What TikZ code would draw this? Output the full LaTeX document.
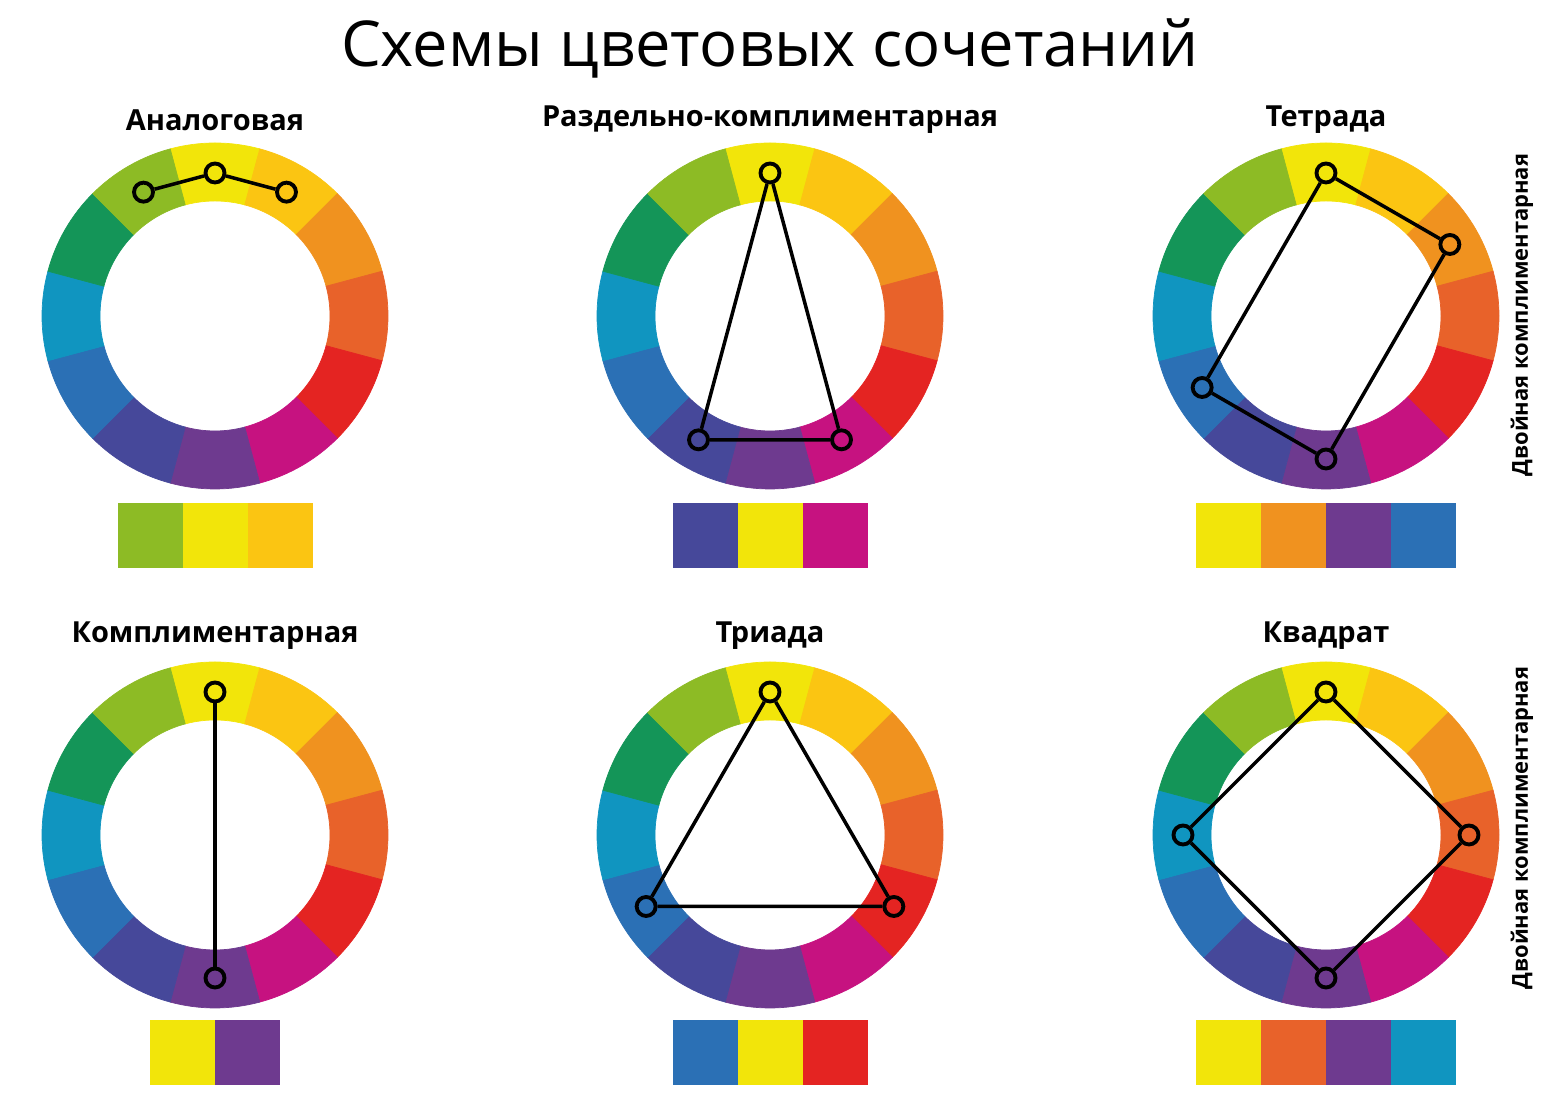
\documentclass[tikz,border=0pt]{standalone}
\usepackage{fontspec}
\setmainfont{Open Sans}
\usetikzlibrary{positioning}
\definecolor{cY}{HTML}{F2E50A}
\definecolor{cYO}{HTML}{FBC512}
\definecolor{cO}{HTML}{F0921F}
\definecolor{cRO}{HTML}{E8622A}
\definecolor{cR}{HTML}{E42422}
\definecolor{cRV}{HTML}{C61280}
\definecolor{cV}{HTML}{6E3A8F}
\definecolor{cBV}{HTML}{46489A}
\definecolor{cB}{HTML}{2B70B5}
\definecolor{cBG}{HTML}{1095C0}
\definecolor{cG}{HTML}{149558}
\definecolor{cYG}{HTML}{8DBB25}
\begin{document}
\begin{tikzpicture}[x=0.02cm,y=0.02cm,
        ringdot/.style={circle,draw,line width=2.2pt,minimum size=0.38cm,inner sep=0pt},
        link/.style={line width=2pt},
        swatch/.style={minimum width=1.3cm,minimum height=1.3cm,inner sep=0pt,outer sep=0pt},
        head/.style={font=\bfseries\fontsize{16.5}{20}\selectfont},
        side/.style={rotate=90,font=\bfseries\fontsize{12.5}{15}\selectfont}]
        \useasboundingbox(0,0)rectangle(1560,1097);
        \node[font=\fontsize{36}{40}\selectfont](title)at(770,1049){Схемы цветовых сочетаний};
        % colour wheels
        \foreach \cx/\cy in {215/781,770/781,1326/781,215/262,770/262,1326/262}
        \foreach \c [count=\i from 0] in {cY,cYO,cO,cRO,cR,cRV,cV,cBV,cB,cBG,cG,cYG}
        \fill[\c,draw=\c,line width=.4pt,shift={(\cx,\cy)}]({75-30*\i}:173)arc[start angle={75-30*\i},end angle={105-30*\i},radius=173]
            --({105-30*\i}:115)arc[start angle={105-30*\i},end angle={75-30*\i},radius=115]--cycle;
        % Аналоговая
        \node[head](h1)at(215,977){Аналоговая};
        \begin{scope}[shift={(215,781)}]
        \node[ringdot](an1)at(120:143){};
        \node[ringdot](an2)at(90:143){};
        \node[ringdot](an3)at(60:143){};
        \draw[link](an1)--(an2)--(an3);
        \end{scope}
        \node[swatch,fill=cYG](s11)at(150.5,561.5){};
        \node[swatch,fill=cY,right=0pt of s11](s12){};
        \node[swatch,fill=cYO,right=0pt of s12](s13){};
        % Раздельно-комплиментарная
        \node[head](h2)at(770,977){Раздельно-комплиментарная};
        \begin{scope}[shift={(770,781)}]
        \node[ringdot](sp1)at(90:143){};
        \node[ringdot](sp2)at(300:143){};
        \node[ringdot](sp3)at(240:143){};
        \draw[link](sp1)--(sp2)--(sp3)--(sp1);
        \end{scope}
        \node[swatch,fill=cBV](s21)at(705.5,561.5){};
        \node[swatch,fill=cY,right=0pt of s21](s22){};
        \node[swatch,fill=cRV,right=0pt of s22](s23){};
        % Тетрада
        \node[head](h3)at(1326,977){Тетрада};
        \begin{scope}[shift={(1326,781)}]
        \node[ringdot](te1)at(90:143){};
        \node[ringdot](te2)at(30:143){};
        \node[ringdot](te3)at(270:143){};
        \node[ringdot](te4)at(210:143){};
        \draw[link](te1)--(te2)--(te3)--(te4)--(te1);
        \end{scope}
        \node[swatch,fill=cY](s31)at(1228.5,561.5){};
        \node[swatch,fill=cO,right=0pt of s31](s32){};
        \node[swatch,fill=cV,right=0pt of s32](s33){};
        \node[swatch,fill=cB,right=0pt of s33](s34){};
        \node[side](d1)at(1522,782){Двойная комплиментарная};
        % Комплиментарная
        \node[head](h4)at(215,461){Комплиментарная};
        \begin{scope}[shift={(215,262)}]
        \node[ringdot](co1)at(90:143){};
        \node[ringdot](co2)at(270:143){};
        \draw[link](co1)--(co2);
        \end{scope}
        \node[swatch,fill=cY](s41)at(182.5,44.5){};
        \node[swatch,fill=cV,right=0pt of s41](s42){};
        % Триада
        \node[head](h5)at(770,461){Триада};
        \begin{scope}[shift={(770,262)}]
        \node[ringdot](tr1)at(90:143){};
        \node[ringdot](tr2)at(330:143){};
        \node[ringdot](tr3)at(210:143){};
        \draw[link](tr1)--(tr2)--(tr3)--(tr1);
        \end{scope}
        \node[swatch,fill=cB](s51)at(705.5,44.5){};
        \node[swatch,fill=cY,right=0pt of s51](s52){};
        \node[swatch,fill=cR,right=0pt of s52](s53){};
        % Квадрат
        \node[head](h6)at(1326,461){Квадрат};
        \begin{scope}[shift={(1326,262)}]
        \node[ringdot](kv1)at(90:143){};
        \node[ringdot](kv2)at(0:143){};
        \node[ringdot](kv3)at(270:143){};
        \node[ringdot](kv4)at(180:143){};
        \draw[link](kv1)--(kv2)--(kv3)--(kv4)--(kv1);
        \end{scope}
        \node[swatch,fill=cY](s61)at(1228.5,44.5){};
        \node[swatch,fill=cRO,right=0pt of s61](s62){};
        \node[swatch,fill=cV,right=0pt of s62](s63){};
        \node[swatch,fill=cBG,right=0pt of s63](s64){};
        \node[side](d2)at(1522,269){Двойная комплиментарная};
    \end{tikzpicture}
\end{document}
